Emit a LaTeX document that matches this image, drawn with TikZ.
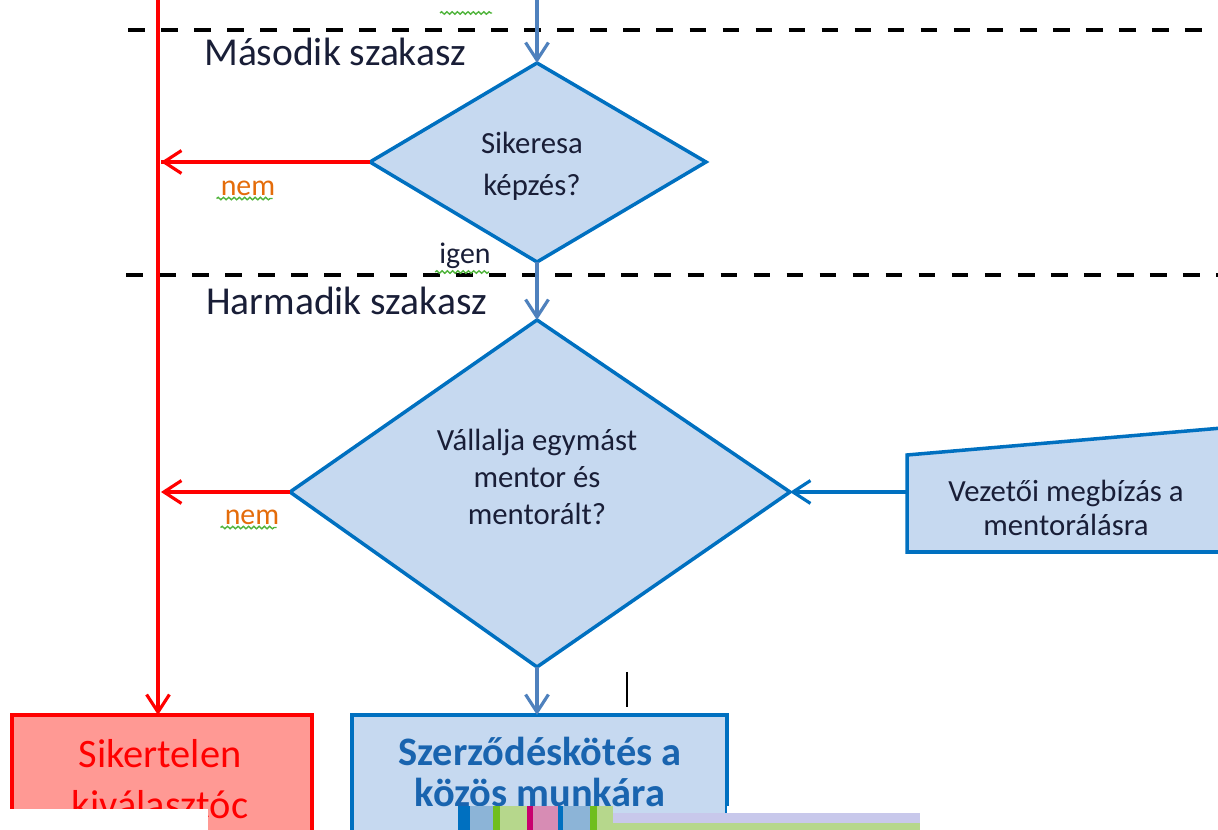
\documentclass[tikz,border=0pt]{standalone}
\usepackage{fontspec}
\setmainfont{Carlito}
\usetikzlibrary{arrows.meta}
\usetikzlibrary{decorations.pathmorphing}
\usetikzlibrary{math}

\definecolor{lineblue}{RGB}{0,112,192}
\definecolor{arrowblue}{RGB}{79,129,189}
\definecolor{fillblue}{RGB}{198,217,240}
\definecolor{failfill}{RGB}{255,153,148}
\definecolor{nemorange}{RGB}{228,108,10}
\definecolor{spellgreen}{RGB}{80,180,60}
\definecolor{headtext}{RGB}{25,30,55}
\definecolor{boldblue}{RGB}{25,100,175}
\definecolor{stripgreen}{RGB}{112,190,30}
\definecolor{striplight}{RGB}{182,215,140}
\definecolor{stripmagenta}{RGB}{200,0,110}
\definecolor{strippink}{RGB}{215,140,180}
\definecolor{stripsky}{RGB}{140,180,215}
\definecolor{striplav}{RGB}{200,200,235}

\tikzset{
    flowarrow/.style={arrowblue, line width=1.8pt,
        -{Straight Barb[length=10pt,width=13pt,line width=1.8pt]}},
    failarrow/.style={red, line width=1.8pt,
        -{Straight Barb[length=10pt,width=13pt,line width=1.8pt]}},
    sectionline/.style={black, line width=2.3pt, dash pattern=on 9.5pt off 9.3pt},
    decision/.style={draw=lineblue, fill=fillblue, line width=2pt, line join=miter},
    answer/.style={nemorange, font=\fontsize{17}{20}\selectfont},
    spellmark/.style={spellgreen, line width=0.8pt, decorate,
        decoration={snake, amplitude=0.7pt, segment length=3pt}},
}

\begin{document}
\begin{tikzpicture}[x=0.02cm, y=-0.02cm]

% Position settings
\tikzmath{
    \MidX = 537;
    \RedX = 158;
}

\useasboundingbox (0,0) rectangle (1218,830);
\clip (0,0) rectangle (1218,830);

\coordinate (In) at (\MidX,-5);
\coordinate (D1T) at (\MidX,63);
\coordinate (D1R) at (706,162);
\coordinate (D1B) at (\MidX,262);
\coordinate (D1L) at (370,162);
\coordinate (D2T) at (\MidX,320);
\coordinate (D2R) at (790,492);
\coordinate (D2B) at (\MidX,667);
\coordinate (D2L) at (290,492);
\coordinate (RedTop) at (\RedX,-5);
\coordinate (RedHit1) at (\RedX+3,162);
\coordinate (RedHit2) at (\RedX+3,492);
\coordinate (FailTop) at (\RedX,715);
\coordinate (OkTop) at (\MidX,715);
\coordinate (MandateL) at (907,492);

% Section borders
\draw [sectionline] (128,30) -- (1230,30);
\draw [sectionline] (126,275) -- (1230,275);
\node [headtext, anchor=west, font=\fontsize{22.5}{26}\selectfont] (Sec2) at (198,52) {Második szakasz};
\node [headtext, anchor=west, font=\fontsize{22.5}{26}\selectfont] (Sec3) at (200,301) {Harmadik szakasz};

% Draws decisions
\draw [decision] (D1T) -- (D1R) -- (D1B) -- (D1L) -- cycle;
\draw [decision] (D2T) -- (D2R) -- (D2B) -- (D2L) -- cycle;
\node [headtext, align=center, font=\fontsize{17.5}{24}\selectfont] (Q1) at (532,166) {Sikeresa\\képzés?};
\node [headtext, align=center, font=\fontsize{17.5}{21}\selectfont] (Q2) at (\MidX,477) {Vállalja egymást\\mentor és\\mentorált?};

% Draws mandate input
\draw [decision] (907,455) -- (1235,426.9) -- (1235,552) -- (907,552) -- cycle;
\node [headtext, align=center, font=\fontsize{17.5}{19}\selectfont] (Mandate) at (1066,508) {Vezetői megbízás a\\mentorálásra};

% Draws result boxes
\draw [red, line width=2.3pt, fill=failfill] (12,715) rectangle (312,900);
\draw [lineblue, line width=2.3pt, fill=fillblue] (352,715) rectangle (727,900);
\node [red, align=center, font=\fontsize{23}{29}\selectfont] (Fail) at (160,779) {Sikertelen\\kiválasztóc};
\node [boldblue, align=center, font=\bfseries\fontsize{23}{23.5}\selectfont] (Ok) at (540,772) {Szerződéskötés a\\közös munkára};

% Connectors
\draw [flowarrow] (In) -- (D1T);
\draw [flowarrow] (D1B) -- (D2T);
\draw [flowarrow] (D2B) -- (OkTop);
\draw [flowarrow, lineblue] (MandateL) -- (D2R);
\draw [red, line width=1.8pt] (D1L) -- (RedHit1);
\draw [failarrow] (D1L) -- (RedHit1);
\draw [failarrow] (D2L) -- (RedHit2);
\draw [failarrow] (RedTop) -- (FailTop);

% Answers
\node [answer] (No1) at (248,188) {nem};
\node [answer] (No2) at (252,517) {nem};
\node [headtext, font=\fontsize{17}{20}\selectfont] (Yes) at (465,256) {igen};
\draw [spellmark] (No1.south west) ++(2,-3) -- ++(56,0);
\draw [spellmark] (No2.south west) ++(2,-3) -- ++(56,0);
\draw [spellmark] (Yes.south west) ++(2,-3) -- ++(54,0);
\draw [spellmark] (440,13) -- (492,13);

% Stray marks
\draw [black, line width=1.7pt] (627,672) -- (627,707);
\fill [white] (0,809) rectangle (208,835);
\fill [white] (727,806) rectangle (1230,835);
\foreach \xa/\xb/\col in {458/470/lineblue, 470/493/stripsky, 493/500/stripgreen,
    500/527/striplight, 527/533/stripmagenta, 533/558/strippink, 558/563/lineblue,
    563/590/stripsky, 590/597/stripgreen, 597/613/striplight}
    \fill [\col] (\xa,806) rectangle (\xb,835);
\fill [striplav] (613,813) rectangle (920,823);
\fill [striplight] (613,823) rectangle (920,835);

\end{tikzpicture}
\end{document}
